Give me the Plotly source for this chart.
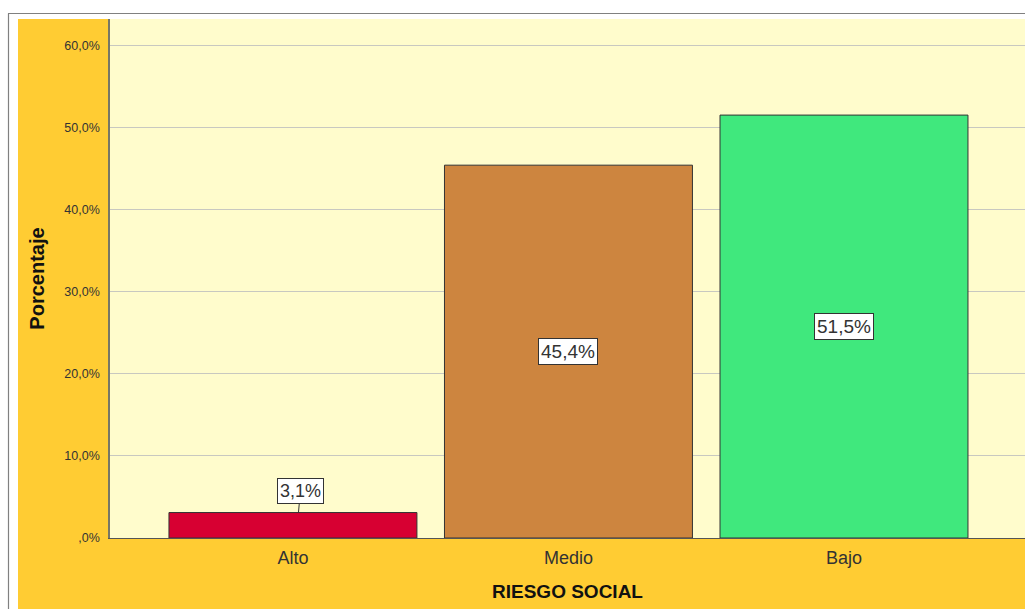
import plotly.graph_objects as go

# Riesgo social: porcentaje por categoría
categorias = ["Alto", "Medio", "Bajo"]
porcentajes = [3.1, 45.4, 51.5]
etiquetas = ["3,1%", "45,4%", "51,5%"]
colores = ["#D70032", "#CD853F", "#40E87D"]

y_ticks = [0, 10, 20, 30, 40, 50, 60]
y_tick_text = [",0%", "10,0%", "20,0%", "30,0%", "40,0%", "50,0%", "60,0%"]

FONT = "Liberation Sans, Arial, sans-serif"

fig = go.Figure()
fig.add_trace(go.Bar(
    x=list(range(len(categorias))),
    y=porcentajes,
    width=0.9,
    marker=dict(color=colores, line=dict(color="#333333", width=1)),
    hoverinfo="skip",
))

# value labels in white boxes
for i, (v, t) in enumerate(zip(porcentajes, etiquetas)):
    if v < 10:
        fig.add_annotation(
            x=i + 0.02, y=v, text=t, showarrow=True, arrowhead=0,
            arrowwidth=1, arrowcolor="#333333", ax=2, ay=-22,
            font=dict(family=FONT, size=18, color="#333333"),
            bgcolor="white", bordercolor="#333333", borderwidth=1, borderpad=2,
        )
    else:
        fig.add_annotation(
            x=i, y=v / 2, text=t, showarrow=False,
            font=dict(family=FONT, size=19, color="#333333"),
            bgcolor="white", bordercolor="#333333", borderwidth=1, borderpad=2,
        )

L, T, B, W, H = 110, 19, 71, 1025, 609
pw = W - L
ph = H - T - B


def px_x(p):
    return (p - L) / pw


def px_y(p):
    return (H - B - p) / ph


# white strips above and left of the orange frame
fig.add_shape(type="rect", xref="paper", yref="paper", layer="below",
              x0=px_x(-5), x1=px_x(W + 5), y0=px_y(19), y1=px_y(-5),
              fillcolor="white", line=dict(width=0))
fig.add_shape(type="rect", xref="paper", yref="paper", layer="below",
              x0=px_x(-5), x1=px_x(18), y0=px_y(H + 5), y1=px_y(-5),
              fillcolor="white", line=dict(width=0))
# thin gray outer border (top and left)
fig.add_shape(type="line", xref="paper", yref="paper", layer="below",
              x0=px_x(8), x1=px_x(W + 5), y0=px_y(13.5), y1=px_y(13.5),
              line=dict(color="#808080", width=1.2))
fig.add_shape(type="line", xref="paper", yref="paper", layer="below",
              x0=px_x(8.5), x1=px_x(8.5), y0=px_y(13.5), y1=px_y(H + 5),
              line=dict(color="#808080", width=1.2))

fig.update_layout(
    width=W, height=H, autosize=False,
    margin=dict(l=L, r=0, t=T, b=B, pad=0),
    paper_bgcolor="#FFCC33",
    plot_bgcolor="#FFFCCC",
    showlegend=False,
    bargap=0.1,
    xaxis=dict(
        range=[-0.664, 2.657],
        tickvals=list(range(len(categorias))),
        ticktext=categorias,
        tickfont=dict(family=FONT, size=18, color="#333333"),
        showgrid=False, zeroline=False,
        showline=True, linecolor="#555555", linewidth=1,
        ticks="", ticklabelstandoff=3,
        title=dict(text="<b>RIESGO SOCIAL</b>",
                   font=dict(family=FONT, size=19, color="#111111"),
                   standoff=18),
    ),
    yaxis=dict(
        range=[0, 63.2],
        tickvals=y_ticks,
        ticktext=y_tick_text,
        tickfont=dict(family=FONT, size=12.5, color="#333333"),
        showgrid=True, gridcolor="#C8C8C0", gridwidth=1,
        zeroline=False,
        showline=True, linecolor="#777766", linewidth=1.5,
        ticks="", ticklabelstandoff=6,
        title=dict(text="<b>Porcentaje</b>",
                   font=dict(family=FONT, size=20, color="#111111"),
                   standoff=14),
    ),
)

fig.write_html("out.html")
